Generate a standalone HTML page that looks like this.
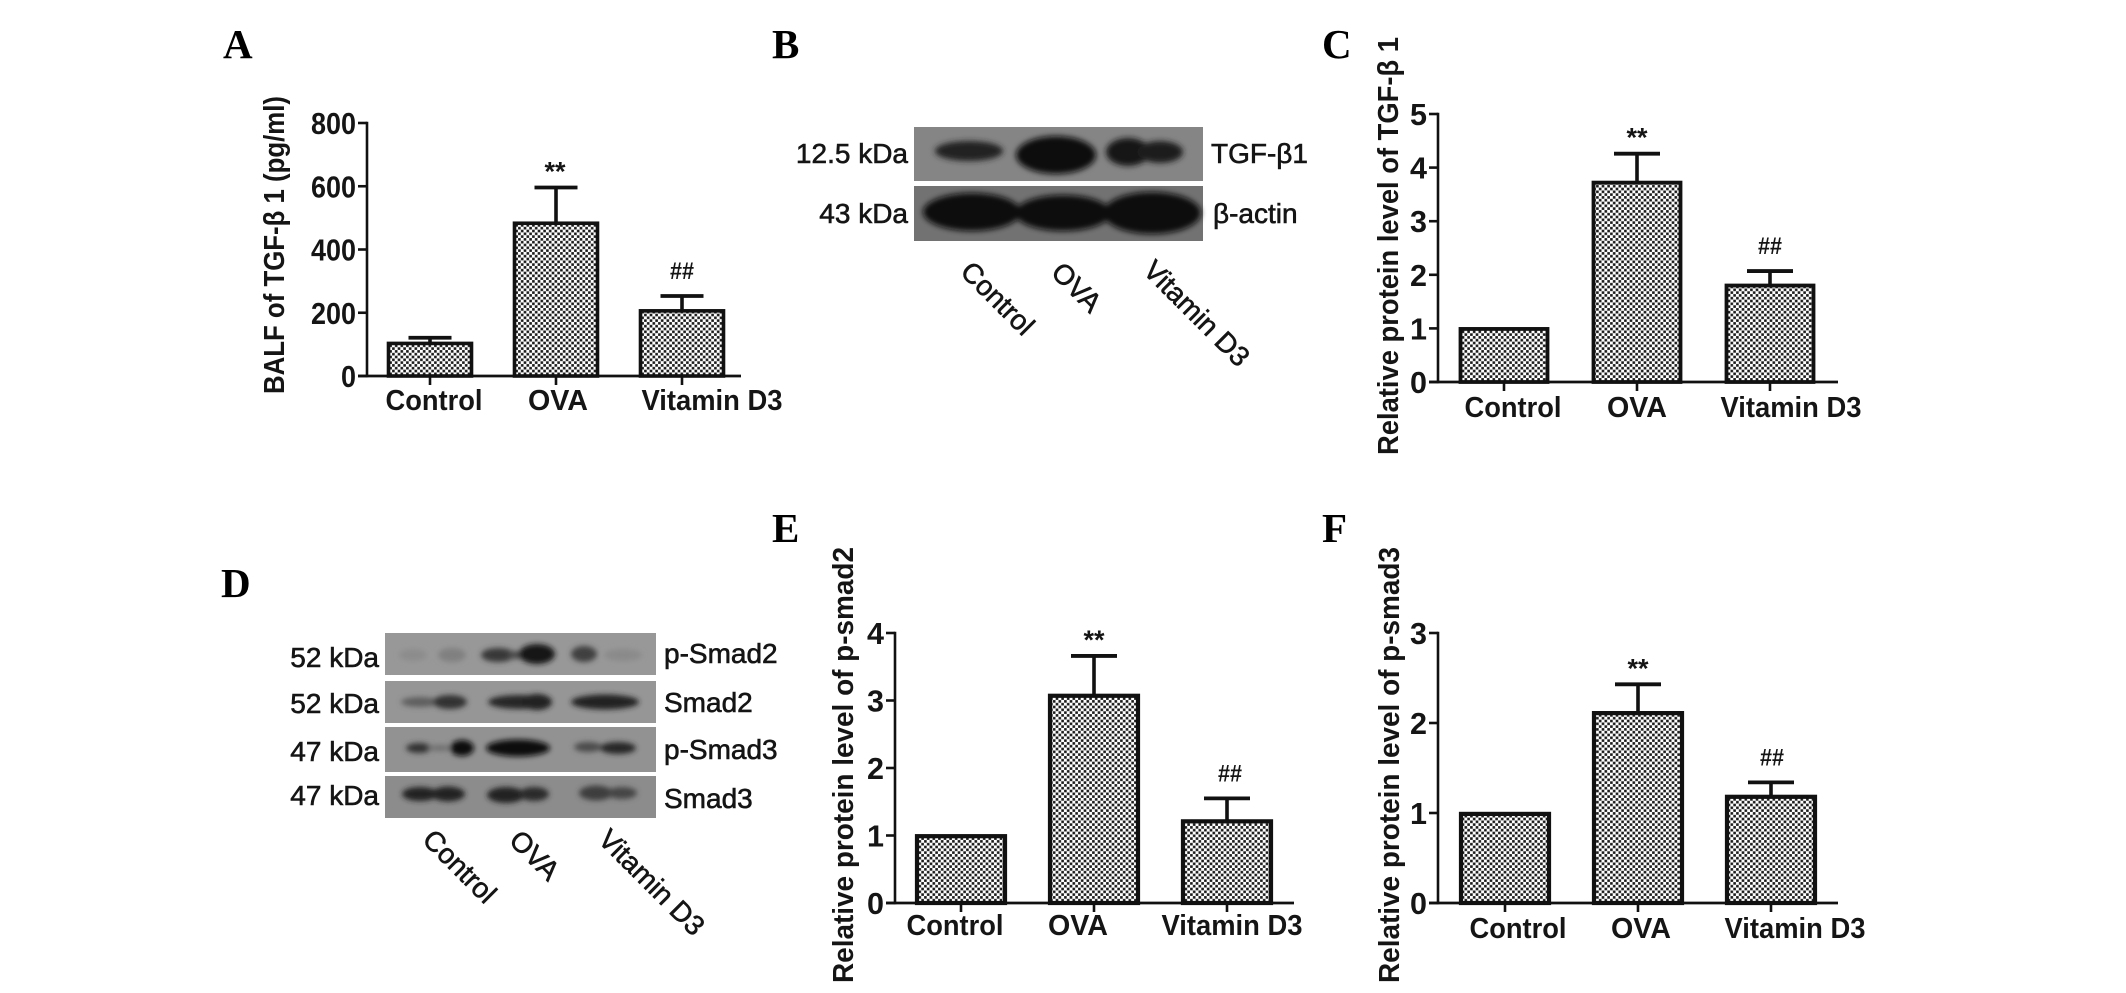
<!DOCTYPE html>
<html lang="en">
<head>
<meta charset="utf-8">
<title>TGF-β1 and Smad figure panels</title>
<style>
html,body{margin:0;padding:0;background:#fff;}
svg{display:block;}
text{font-family:"Liberation Sans",sans-serif;fill:#151515;}
.letter{font-family:"Liberation Serif",serif;font-weight:bold;font-size:41px;fill:#000;}
.blot-label{font-size:28px;stroke:#151515;stroke-width:.6px;}
</style>
</head>
<body>
<svg id="figure" xmlns="http://www.w3.org/2000/svg" width="2126" height="993" viewBox="0 0 2126 993">
<defs>
<pattern id="checker" patternUnits="userSpaceOnUse" width="5.6" height="5.6">
<rect width="5.6" height="5.6" fill="#fff"/>
<rect x="0.1" y="0.1" width="2.6" height="2.6" fill="#1a1a1a"/>
<rect x="2.9" y="2.9" width="2.6" height="2.6" fill="#1a1a1a"/>
</pattern>
<filter id="blur2" x="-30%" y="-80%" width="160%" height="260%"><feGaussianBlur stdDeviation="2.6"/></filter>
<filter id="blur3" x="-30%" y="-60%" width="160%" height="220%"><feGaussianBlur stdDeviation="3"/></filter>
</defs>

<rect width="2126" height="993" fill="#fff"/>

<text class="letter" x="223" y="58">A</text>
<text class="letter" x="772" y="58">B</text>
<text class="letter" x="1322" y="58">C</text>
<text class="letter" x="221" y="597">D</text>
<text class="letter" x="772" y="542">E</text>
<text class="letter" x="1322" y="542">F</text>

<g>
<rect x="914" y="127" width="289" height="54" fill="#858585"/>
<rect x="914" y="186" width="289" height="55" fill="#727272"/>
<g filter="url(#blur3)">
<ellipse cx="969" cy="151" rx="34" ry="10" fill="#222"/>
<ellipse cx="1056" cy="155" rx="40" ry="19" fill="#0e0e0e"/>
<ellipse cx="1128" cy="152" rx="22" ry="14" fill="#141414"/>
<ellipse cx="1160" cy="152" rx="23" ry="11" fill="#1a1a1a"/>
</g>
<g filter="url(#blur3)">
<ellipse cx="972" cy="212" rx="49" ry="19" fill="#0e0e0e"/>
<ellipse cx="1063" cy="213" rx="48" ry="18" fill="#0c0c0c"/>
<ellipse cx="1152" cy="213" rx="49" ry="21" fill="#0e0e0e"/>
</g>
<text class="blot-label" x="908" y="163" text-anchor="end">12.5 kDa</text>
<text class="blot-label" x="908" y="223" text-anchor="end">43 kDa</text>
<text class="blot-label" x="1211" y="163">TGF-β1</text>
<text class="blot-label" x="1213" y="223">β-actin</text>
<text class="blot-label" text-anchor="middle" transform="translate(998,298) rotate(45)" y="10">Control</text>
<text class="blot-label" text-anchor="middle" transform="translate(1077,287) rotate(45)" y="10">OVA</text>
<text class="blot-label" text-anchor="middle" transform="translate(1197,313) rotate(45)" y="10">Vitamin D3</text>
</g>

<g>
<rect x="385" y="633" width="271" height="42" fill="#989898"/>
<rect x="385" y="681" width="271" height="42" fill="#969696"/>
<rect x="385" y="727" width="271" height="45" fill="#929292"/>
<rect x="385" y="776" width="271" height="42" fill="#8c8c8c"/>
<g filter="url(#blur2)">
<ellipse cx="413" cy="655" rx="14" ry="6" fill="#8c8c8c"/>
<ellipse cx="452" cy="655" rx="14" ry="7" fill="#808080"/>
<ellipse cx="498" cy="655" rx="17" ry="7" fill="#383838"/>
<ellipse cx="517" cy="655" rx="10" ry="4" fill="#484848"/>
<ellipse cx="537" cy="654" rx="18" ry="10" fill="#141414"/>
<ellipse cx="584" cy="654" rx="13" ry="8" fill="#404040"/>
<ellipse cx="623" cy="655" rx="19" ry="6" fill="#8a8a8a"/>
</g>
<g filter="url(#blur2)">
<ellipse cx="420" cy="702" rx="19" ry="5" fill="#5e5e5e"/>
<ellipse cx="450" cy="702" rx="17" ry="7" fill="#303030"/>
<ellipse cx="520" cy="702" rx="32" ry="7" fill="#282828"/>
<ellipse cx="537" cy="702" rx="15" ry="8" fill="#202020"/>
<ellipse cx="605" cy="702" rx="34" ry="7.5" fill="#242424"/>
</g>
<g filter="url(#blur2)">
<ellipse cx="419" cy="748" rx="13" ry="5" fill="#303030"/>
<ellipse cx="440" cy="748" rx="13" ry="3" fill="#6e6e6e"/>
<ellipse cx="462" cy="748" rx="12" ry="8" fill="#0a0a0a"/>
<ellipse cx="518" cy="748" rx="32" ry="8.5" fill="#0c0c0c"/>
<ellipse cx="588" cy="747" rx="14" ry="5" fill="#4c4c4c"/>
<ellipse cx="618" cy="748" rx="18" ry="6" fill="#282828"/>
</g>
<g filter="url(#blur2)">
<ellipse cx="420" cy="794" rx="18" ry="7" fill="#222"/>
<ellipse cx="448" cy="794" rx="17" ry="7.5" fill="#222"/>
<ellipse cx="506" cy="795" rx="19" ry="8" fill="#242424"/>
<ellipse cx="534" cy="794" rx="15" ry="7" fill="#2c2c2c"/>
<ellipse cx="596" cy="793" rx="17" ry="7.5" fill="#3e3e3e"/>
<ellipse cx="622" cy="793" rx="15" ry="6" fill="#444"/>
</g>
<text class="blot-label" x="379" y="667" text-anchor="end">52 kDa</text>
<text class="blot-label" x="379" y="713" text-anchor="end">52 kDa</text>
<text class="blot-label" x="379" y="761" text-anchor="end">47 kDa</text>
<text class="blot-label" x="379" y="805" text-anchor="end">47 kDa</text>
<text class="blot-label" x="664" y="663">p-Smad2</text>
<text class="blot-label" x="664" y="712">Smad2</text>
<text class="blot-label" x="664" y="759">p-Smad3</text>
<text class="blot-label" x="664" y="808">Smad3</text>
<text class="blot-label" text-anchor="middle" transform="translate(460,866) rotate(45)" y="10">Control</text>
<text class="blot-label" text-anchor="middle" transform="translate(535,855) rotate(45)" y="10">OVA</text>
<text class="blot-label" text-anchor="middle" transform="translate(652,882) rotate(45)" y="10">Vitamin D3</text>
</g>
</svg>

<script>
const categories = ['Control', 'OVA', 'Vitamin D3'];
const significance = ['', '**', '##'];

const valuesA = [103, 483, 206];
const errorsA = [18, 113, 47];
const ticksA = [0, 200, 400, 600, 800];

const valuesC = [0.99, 3.72, 1.8];
const errorsC = [0, 0.54, 0.27];
const ticksC = [0, 1, 2, 3, 4, 5];

const valuesE = [0.99, 3.07, 1.21];
const errorsE = [0, 0.59, 0.34];
const ticksE = [0, 1, 2, 3, 4];

const valuesF = [0.99, 2.11, 1.18];
const errorsF = [0, 0.32, 0.16];
const ticksF = [0, 1, 2, 3];

const SVG_NS = 'http://www.w3.org/2000/svg';
const figure = document.getElementById('figure');

function make(parent, tag, attrs, content) {
  const el = document.createElementNS(SVG_NS, tag);
  for (const key in attrs) el.setAttribute(key, attrs[key]);
  if (content !== undefined) el.textContent = content;
  parent.appendChild(el);
  return el;
}

function drawPanel(id, title, values, errors, ticks, box) {
  const maxTick = ticks[ticks.length - 1];
  const yScale = v => box.y0 - (v / maxTick) * (box.y0 - box.yTop);
  const xScale = i => box.x0 + i * box.step;

  const group = make(figure, 'g', {});
  
  

  values.forEach((v, i) => {
    const cx = xScale(i);
    const top = yScale(v);
    const capY = yScale(v + errors[i]);
    if (errors[i] > 0) {
      const stem = make(group, 'line', {x1: cx, x2: cx, y1: top, y2: capY, stroke: '#111', 'stroke-width': 3.6});
      
      
      const cap = make(group, 'line', {x1: cx - box.capW / 2, x2: cx + box.capW / 2, y1: capY, y2: capY, stroke: '#111', 'stroke-width': 3.8});
      
      
    }
    const bar = make(group, 'rect', {x: cx - box.barW / 2, y: top, width: box.barW, height: box.y0 - top, fill: 'url(#checker)', stroke: '#111', 'stroke-width': box.barStroke});
    
    
    const xTick = make(group, 'line', {x1: cx, x2: cx, y1: box.y0, y2: box.y0 + 9, stroke: '#111', 'stroke-width': 2.6});
    
    
    const label = make(group, 'text', {x: cx + box.labelDx[i], y: box.labelY, 'text-anchor': 'middle', 'font-size': 28.5, 'font-weight': 'bold', textLength: box.labelW[i], lengthAdjust: 'spacingAndGlyphs'}, categories[i]);
    
    
    if (significance[i]) {
      const stars = significance[i] === '**';
      const mark = make(group, 'text', {x: cx + box.markDx[i], y: capY + (stars ? -7 : -17), 'text-anchor': 'middle', 'font-size': stars ? 27 : 24, 'font-weight': 'bold', textLength: stars ? 21 : 24, lengthAdjust: 'spacingAndGlyphs'}, significance[i]);
      
      
    }
  });

  const yAxis = make(group, 'line', {x1: box.axisX, x2: box.axisX, y1: box.yTop - 1.3, y2: box.y0 + 1.3, stroke: '#111', 'stroke-width': 2.6});
  
  
  const xAxis = make(group, 'line', {x1: box.axisX - 9, x2: box.xEnd, y1: box.y0, y2: box.y0, stroke: '#111', 'stroke-width': 2.8});
  
  

  ticks.forEach(t => {
    const y = yScale(t);
    const tick = make(group, 'line', {x1: box.axisX - 9, x2: box.axisX, y1: y, y2: y, stroke: '#111', 'stroke-width': 2.6});
    
    
    const text = String(t);
    const tickLabel = make(group, 'text', {x: box.axisX - 11, y: y + 11, 'text-anchor': 'end', 'font-size': box.tickFont, 'font-weight': 'bold', textLength: text.length * box.digitW, lengthAdjust: 'spacingAndGlyphs'}, text);
    
    
  });

  const yTitle = make(group, 'text', {transform: 'translate(' + box.titleX + ',' + box.titleY + ') rotate(-90)', 'text-anchor': 'middle', 'font-size': 29, 'font-weight': 'bold', textLength: box.titleLen, lengthAdjust: 'spacingAndGlyphs'}, title);
  
  
}

drawPanel('a', 'BALF of TGF-β 1 (pg/ml)', valuesA, errorsA, ticksA, {
  axisX: 367, xEnd: 741, y0: 376, yTop: 123, x0: 430, step: 126, barW: 83, capW: 43, barStroke: 3.6,
  labelDx: [4, 2, 30], labelY: 410, markDx: [0, -1, 0], tickFont: 31, digitW: 15,
  labelW: [97, 60, 141], titleX: 284, titleY: 245, titleLen: 298
});
drawPanel('c', 'Relative protein level of TGF-β 1', valuesC, errorsC, ticksC, {
  axisX: 1438, xEnd: 1838, y0: 382, yTop: 114, x0: 1504, step: 133, barW: 87, capW: 46, barStroke: 3.8,
  labelDx: [9, 0, 21], labelY: 417, markDx: [0, 0, 0], tickFont: 31, digitW: 17,
  labelW: [97, 60, 141], titleX: 1398, titleY: 246, titleLen: 418
});
drawPanel('e', 'Relative protein level of p-smad2', valuesE, errorsE, ticksE, {
  axisX: 895, xEnd: 1294, y0: 903, yTop: 633, x0: 961, step: 133, barW: 88, capW: 46, barStroke: 4.2,
  labelDx: [-6, -16, 5], labelY: 935, markDx: [0, 0, 3], tickFont: 31, digitW: 17,
  labelW: [97, 60, 141], titleX: 853, titleY: 765, titleLen: 436
});
drawPanel('f', 'Relative protein level of p-smad3', valuesF, errorsF, ticksF, {
  axisX: 1438, xEnd: 1838, y0: 903, yTop: 633, x0: 1505, step: 133, barW: 88, capW: 46, barStroke: 4.2,
  labelDx: [13, 3, 24], labelY: 938, markDx: [0, 0, 1], tickFont: 31, digitW: 17,
  labelW: [97, 60, 141], titleX: 1399, titleY: 765, titleLen: 436
});
</script>
</body>
</html>
